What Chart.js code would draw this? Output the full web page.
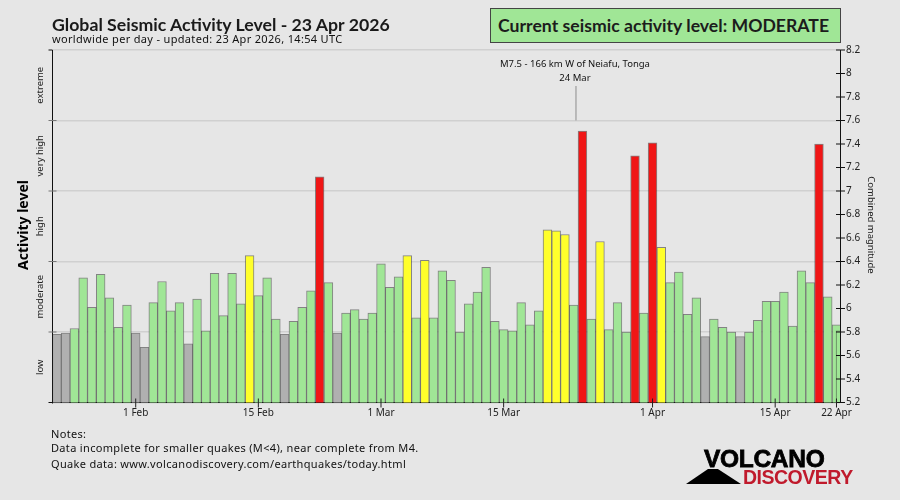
<!DOCTYPE html>
<html>
<head>
<meta charset="utf-8">
<title>Global Seismic Activity Level</title>
<script src="https://cdn.jsdelivr.net/npm/chart.js@4"></script>
<style>
    html, body { margin: 0; padding: 0; background: #e6e6e6; }
    #wrap { position: relative; width: 900px; height: 500px; overflow: hidden; background: #e6e6e6; }
    canvas { position: absolute; left: 0; top: 0; }
    .txt { position: absolute; white-space: nowrap; color: #111; }
    #title { left: 52px; top: 13px; font: bold 17.7px/24px Lato, sans-serif; color: #1a1a1a; }
    #sub { left: 52px; top: 32px; font: 11px/14px "Noto Sans", sans-serif; letter-spacing: 0.33px; }
    #badge { left: 490px; top: 8px; width: 349px; height: 33px; box-sizing: content-box; background: #a0e696;
             border: 1px solid #444; font: bold 17.65px/33px Lato, sans-serif; color: #1c1c1c; text-indent: 7px; }
    .note { left: 51px; font: 11px/14px "Noto Sans", sans-serif; letter-spacing: 0.33px; }
    #logo1 { left: 704px; top: 445px; font: bold 24.5px/28px "Liberation Sans", sans-serif; color: #000;
             -webkit-text-stroke: 0.8px #000; letter-spacing: -0.3px; }
    #logo2 { left: 743px; top: 466px; font: bold 19.5px/22px "Liberation Sans", sans-serif; color: #c01a2c; letter-spacing: -0.5px; }
    #logoMark { position: absolute; left: 686px; top: 469px; width: 55px; height: 15px; background: #000;
                clip-path: polygon(40% 0, 58% 0, 100% 100%, 0 100%); }
</style>
</head>
<body>
<div id="wrap">
    <canvas id="chart" width="900" height="500"></canvas>
    <div class="txt" id="title">Global Seismic Activity Level - 23 Apr 2026</div>
    <div class="txt" id="sub">worldwide per day - updated: 23 Apr 2026, 14:54 UTC</div>
    <div class="txt" id="badge">Current seismic activity level: MODERATE</div>
    <div class="txt note" style="top:427px">Notes:</div>
    <div class="txt note" style="top:441px">Data incomplete for smaller quakes (M&lt;4), near complete from M4.</div>
    <div class="txt note" style="top:457px">Quake data: www.volcanodiscovery.com/earthquakes/today.html</div>
    <div id="logoMark"></div>
    <div class="txt" id="logo1">VOLCANO</div>
    <div class="txt" id="logo2">DISCOVERY</div>
</div>

<script>
// daily combined magnitude, first bar = 23 Jan
const dailyLevels = [
    5.78, 5.79, 5.83, 6.26, 6.01, 6.29, 6.09, 5.84, 6.03, 5.79,
    5.67, 6.05, 6.23, 5.98, 6.05, 5.70, 6.08, 5.81, 6.30, 5.94,
    6.30, 6.04, 6.45, 6.11, 6.26, 5.91, 5.78, 5.89, 6.01, 6.15,
    7.12, 6.22, 5.79, 5.96, 5.99, 5.91, 5.96, 6.38, 6.18, 6.27,
    6.45, 5.92, 6.41, 5.92, 6.32, 6.24, 5.80, 6.04, 6.14, 6.35,
    5.89, 5.82, 5.81, 6.05, 5.86, 5.98, 6.67, 6.66, 6.63, 6.03,
    7.51, 5.91, 6.57, 5.82, 6.05, 5.80, 7.30, 5.96, 7.41, 6.52,
    6.22, 6.31, 5.95, 6.09, 5.76, 5.91, 5.84, 5.80, 5.76, 5.80,
    5.90, 6.06, 6.06, 6.14, 5.85, 6.32, 6.22, 7.40, 6.10, 5.86
];
// today's partial day, drawn as the narrow bar at the right edge
const todayLevel = [5.81];

const dateTickDays   = [9, 23, 37, 51, 68, 82, 89];
const dateTickLabels = ["1 Feb", "15 Feb", "1 Mar", "15 Mar", "1 Apr", "15 Apr", "22 Apr"];

const magnitudeTicks = [5.2, 5.4, 5.6, 5.8, 6, 6.2, 6.4, 6.6, 6.8, 7, 7.2, 7.4, 7.6, 7.8, 8, 8.2];
const levelBounds    = [5.2, 5.8, 6.4, 7, 7.6, 8.2];
const levelNames     = ["low", "moderate", "high", "very high", "extreme"];

const eventLabel = ["M7.5 - 166 km W of Neiafu, Tonga", "24 Mar"];
const eventDay   = 60;

const TICK_FONT = '"Noto Sans", sans-serif';
const BAR_EDGE  = "rgba(50,50,50,0.55)";

function barColor(v) {
    if (v >= 7)   return "#f01616";
    if (v >= 6.4) return "#ffff2b";
    if (v >= 5.8) return "#a0e696";
    return "#b0b0b0";
}

/* ticks cross the axes, and the side texts + event marker sit outside the datasets */
const decorations = {
    id: "decorations",
    afterDatasetsDraw(chart) {
        const { ctx, chartArea: area, scales } = chart;
        const y = scales.y, x = scales.x;
        ctx.save();

        ctx.strokeStyle = "#111";
        ctx.lineWidth = 1;
        magnitudeTicks.forEach(v => {
            const py = y.getPixelForValue(v);
            ctx.beginPath(); ctx.moveTo(area.right - 4, py); ctx.lineTo(area.right + 5, py); ctx.stroke();
        });
        levelBounds.forEach((v, i) => {
            const py = y.getPixelForValue(v);
            const inner = (i === 0 || i === levelBounds.length - 1) ? 0 : 4;
            ctx.strokeStyle = inner ? "#777" : "#111";
            ctx.beginPath(); ctx.moveTo(area.left - 4, py); ctx.lineTo(area.left + inner, py); ctx.stroke();
        });
        ctx.strokeStyle = "#222";
        dateTickDays.forEach(d => {
            const px = x.getPixelForValue(d);
            ctx.beginPath(); ctx.moveTo(px, area.bottom - 4); ctx.lineTo(px, area.bottom + 5); ctx.stroke();
        });

        // level names, rotated, centred in their band
        ctx.fillStyle = "#222";
        ctx.font = "9.5px " + TICK_FONT;
        ctx.textAlign = "center";
        ctx.textBaseline = "middle";
        levelNames.forEach((name, i) => {
            const mid = y.getPixelForValue((levelBounds[i] + levelBounds[i + 1]) / 2);
            ctx.save();
            ctx.translate(40, mid);
            ctx.rotate(-Math.PI / 2);
            ctx.fillText(name, 0, 0);
            ctx.restore();
        });

        ctx.save();
        ctx.translate(24, 225);
        ctx.rotate(-Math.PI / 2);
        ctx.fillStyle = "#000";
        ctx.font = "bold 14px " + TICK_FONT;
        ctx.fillText("Activity level", 0, 0);
        ctx.restore();

        ctx.save();
        ctx.translate(871, 225);
        ctx.rotate(Math.PI / 2);
        ctx.fillStyle = "#222";
        ctx.font = "9.5px " + TICK_FONT;
        ctx.fillText("Combined magnitude", 0, 0);
        ctx.restore();

        // event marker: sits a little left of its bar in the original
        const ex = x.getPixelForValue(eventDay) - 6.5;
        ctx.strokeStyle = "#aaa";
        ctx.lineWidth = 1.5;
        ctx.beginPath(); ctx.moveTo(ex, 86); ctx.lineTo(ex, y.getPixelForValue(7.6)); ctx.stroke();
        ctx.fillStyle = "#111";
        ctx.font = "9.5px " + TICK_FONT;
        ctx.fillText(eventLabel[0], ex - 1, 64);
        ctx.fillText(eventLabel[1], ex - 1, 78);

        ctx.restore();
    }
};

new Chart(document.getElementById("chart"), {
    type: "bar",
    data: {
        datasets: [
            {
                data: dailyLevels.map((v, i) => ({ x: i, y: v })),
                backgroundColor: c => barColor(c.raw.y),
                borderColor: BAR_EDGE,
                borderWidth: 1,
                barThickness: 8.76,
                grouped: false,
                order: 1,
                yAxisID: "y"
            },
            {
                data: todayLevel.map(v => ({ x: dailyLevels.length - 1 + 0.22, y: v })),
                backgroundColor: c => barColor(c.raw.y),
                borderColor: BAR_EDGE,
                borderWidth: 1,
                barThickness: 4.7,
                grouped: false,
                order: 0,
                yAxisID: "y"
            }
        ]
    },
    options: {
        responsive: false,
        animation: false,
        devicePixelRatio: 1,
        layout: { padding: { left: 52.5, right: 0, top: 50, bottom: 0 } },
        plugins: { legend: { display: false }, tooltip: { enabled: false } },
        scales: {
            x: {
                type: "linear",
                offset: false,
                min: -0.5,
                max: 89.4,
                afterFit: s => { s.height = 97.5; },
                afterBuildTicks: s => { s.ticks = dateTickDays.map(d => ({ value: d })); },
                grid: { display: false, drawTicks: false },
                border: { color: "#111", width: 1 },
                ticks: {
                    autoSkip: false,
                    maxRotation: 0,
                    padding: 5,
                    color: "#222",
                    font: { family: "Noto Sans", size: 10 },
                    callback: v => dateTickLabels[dateTickDays.indexOf(v)]
                }
            },
            y: {
                position: "right",
                min: 5.2,
                max: 8.2,
                afterFit: s => { s.width = 60; },
                afterBuildTicks: s => { s.ticks = magnitudeTicks.map(v => ({ value: v })); },
                grid: { display: false, drawTicks: false },
                border: { color: "#111", width: 1 },
                ticks: {
                    autoSkip: false,
                    padding: 6,
                    color: "#222",
                    font: { family: "Noto Sans", size: 10 },
                    callback: v => String(v)
                }
            },
            levels: {
                position: "left",
                min: 5.2,
                max: 8.2,
                afterFit: s => { s.width = 0; },
                afterBuildTicks: s => { s.ticks = levelBounds.map(v => ({ value: v })); },
                grid: { color: "#d0d0d0", lineWidth: 1.5, drawTicks: false },
                border: { color: "#111", width: 1 },
                ticks: { display: false }
            }
        }
    },
    plugins: [decorations]
});
</script>
</body>
</html>
